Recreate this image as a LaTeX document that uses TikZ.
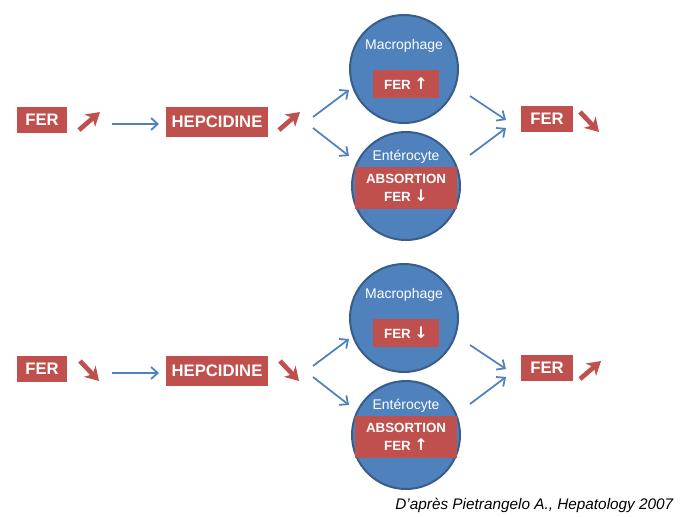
\documentclass[tikz,border=0pt]{standalone}
\usepackage{fontspec}
\setmainfont{Liberation Sans}
\newfontfamily\dv{DejaVu Sans}
\usetikzlibrary{arrows.meta}
\definecolor{boxred}{HTML}{C0504D}
\definecolor{cellblue}{HTML}{4F81BD}
\definecolor{celledge}{HTML}{385D8A}
\newcommand{\myup}{{\dv\fontsize{12}{12}\selectfont ↑}}
\newcommand{\mydown}{{\dv\fontsize{12}{12}\selectfont ↓}}
\tikzset{
  redbox/.style={fill=boxred, draw=none, text=white, font=\bfseries\fontsize{12.5}{14}\selectfont, inner sep=0pt, minimum height=19.5pt},
  smallbox/.style={fill=boxred, draw=none, text=white, font=\bfseries\fontsize{10}{12}\selectfont, inner sep=0pt, align=center},
  cell/.style={circle, fill=cellblue, draw=celledge, line width=1.5pt, minimum size=81pt, inner sep=0pt},
  celltext/.style={text=white, font=\fontsize{10.5}{12}\selectfont},
  bluearrow/.style={draw=cellblue, line width=1.3pt, -{Straight Barb[length=5pt,width=9pt,line width=1.3pt]}},
  redarrow/.style={draw=boxred, line width=3.5pt, -{Stealth[length=10pt,width=12pt,inset=3pt]}},
}
\begin{document}
\begin{tikzpicture}[x=0.75pt,y=-0.75pt]
\useasboundingbox (0,0) rectangle (689,517);
\fill[white] (0,0) rectangle (689,517);
% ---------- top row ----------
\node[redbox, minimum width=38pt] (fer1) at (42,120) {FER};
\coordinate (r1a) at (79,130); \coordinate (r1b) at (100,112);
\draw[redarrow] (r1a) -- (r1b);
\node[redbox, minimum width=77pt, minimum height=22pt] (hep1) at (217,122) {HEPCIDINE};
\coordinate (b1a) at (112,124); \coordinate (b1b) at (159,124);
\draw[bluearrow] (b1a) -- (b1b);
\coordinate (r2a) at (279,130); \coordinate (r2b) at (300,112);
\draw[redarrow] (r2a) -- (r2b);
\node[cell] (mac1) at (404,69) {};
\node[celltext] (mact1) at (404,46) {Macrophage};
\node[smallbox, minimum width=49pt, minimum height=21pt] (macb1) at (406,84) {FER \myup};
\node[cell] (ent1) at (406,186) {};
\node[celltext] (entt1) at (406,157) {Entérocyte};
\node[smallbox, minimum width=77pt, minimum height=32pt] (entb1) at (406,188) {ABSORTION\\[1pt]FER \mydown};
\coordinate (s1) at (313,117); \coordinate (e1) at (349,90);
\coordinate (s2) at (313,128); \coordinate (e2) at (349,156);
\draw[bluearrow] (s1) -- (e1);
\draw[bluearrow] (s2) -- (e2);
\node[redbox, minimum width=39pt] (fer2) at (547,119) {FER};
\coordinate (s5) at (470,96); \coordinate (e5) at (506,120);
\coordinate (s6) at (470,155); \coordinate (e6) at (506,128);
\draw[bluearrow] (s5) -- (e5);
\draw[bluearrow] (s6) -- (e6);
\coordinate (r3a) at (580,112); \coordinate (r3b) at (599,132);
\draw[redarrow] (r3a) -- (r3b);
% ---------- bottom row ----------
\begin{scope}[yshift=-249*0.75pt]
\node[redbox, minimum width=38pt] (fer3) at (42,120) {FER};
\coordinate (r4a) at (80,112); \coordinate (r4b) at (99,132);
\draw[redarrow] (r4a) -- (r4b);
\node[redbox, minimum width=77pt, minimum height=22pt] (hep2) at (217,122) {HEPCIDINE};
\coordinate (b2a) at (112,124); \coordinate (b2b) at (159,124);
\draw[bluearrow] (b2a) -- (b2b);
\coordinate (r5a) at (280,112); \coordinate (r5b) at (299,132);
\draw[redarrow] (r5a) -- (r5b);
\node[cell] (mac2) at (404,69) {};
\node[celltext] (mact2) at (404,46) {Macrophage};
\node[smallbox, minimum width=49pt, minimum height=21pt] (macb2) at (406,84) {FER \mydown};
\node[cell] (ent2) at (406,186) {};
\node[celltext] (entt2) at (406,157) {Entérocyte};
\node[smallbox, minimum width=77pt, minimum height=32pt] (entb2) at (406,188) {ABSORTION\\[1pt]FER \myup};
\coordinate (s3) at (313,117); \coordinate (e3) at (349,90);
\coordinate (s4) at (313,128); \coordinate (e4) at (349,156);
\draw[bluearrow] (s3) -- (e3);
\draw[bluearrow] (s4) -- (e4);
\node[redbox, minimum width=39pt] (fer4) at (547,119) {FER};
\coordinate (s7) at (470,96); \coordinate (e7) at (506,120);
\coordinate (s8) at (470,155); \coordinate (e8) at (506,128);
\draw[bluearrow] (s7) -- (e7);
\draw[bluearrow] (s8) -- (e8);
\coordinate (r6a) at (580,130); \coordinate (r6b) at (601,112);
\draw[redarrow] (r6a) -- (r6b);
\end{scope}
\node[anchor=east, font=\itshape\fontsize{11.5}{13}\selectfont] (credit) at (678,505) {D’après Pietrangelo A., Hepatology 2007};
\end{tikzpicture}
\end{document}
